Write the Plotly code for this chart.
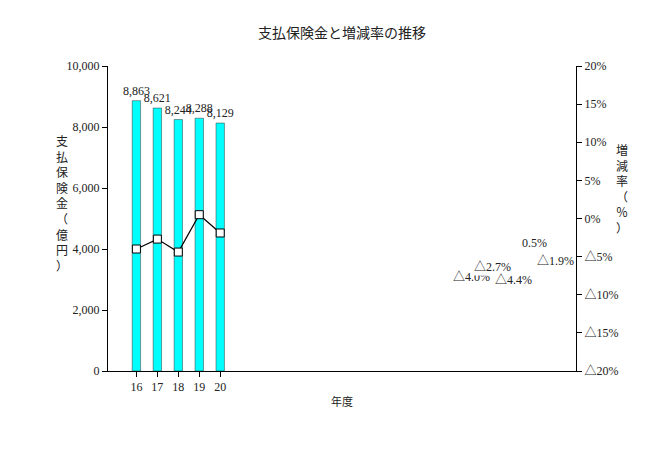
import plotly.graph_objects as go

years = ["16", "17", "18", "19", "20"]
payments = [8863, 8621, 8244, 8288, 8129]
rates = [-4.0, -2.7, -4.4, 0.5, -1.9]
rate_labels = ["△4.0%", "△2.7%", "△4.4%", "0.5%", "△1.9%"]
pct_ticks = [20, 15, 10, 5, 0, -5, -10, -15, -20]
pct_text = ["20%", "15%", "10%", "5%", "0%", "△5%", "△10%", "△15%", "△20%"]

F = "Liberation Serif, Noto Sans CJK JP"
fig = go.Figure()
fig.add_trace(go.Bar(x=years, y=payments, width=0.4, marker=dict(color="#00FFFF", line=dict(color="#333", width=0.5)),
                     text=[f"{v:,}" for v in payments], textposition="outside", textfont=dict(size=12, color="#222"),
                     constraintext="none", cliponaxis=False, showlegend=False))
fig.add_trace(go.Scatter(x=years, y=rates, yaxis="y2", mode="lines+markers",
                         line=dict(color="black", width=1.2),
                         marker=dict(symbol="square", size=8, color="white", line=dict(color="black", width=1)),
                         showlegend=False))
for x, r, t in zip(years, rates, rate_labels):
    fig.add_annotation(x=x, y=r, yref="y2", text=t, showarrow=False, yshift=-28,
                       bgcolor="white", font=dict(size=12, color="#222"))
fig.update_layout(
    width=668, height=453, plot_bgcolor="white", paper_bgcolor="white",
    margin=dict(l=100, r=100, t=58, b=90), font=dict(family=F, size=12, color="#222"),
    title=dict(text="支払保険金と増減率の推移", x=0.5, y=0.955, xanchor="center", font=dict(family="Noto Sans CJK JP", size=14)),
    xaxis=dict(type="category", showline=True, linecolor="black", ticks="outside", tickcolor="black",
               title=dict(text="年度", font=dict(family="Noto Sans CJK JP", size=11), standoff=4)),
    yaxis=dict(range=[0, 10000], dtick=2000, tickformat=",", showline=True, linecolor="black",
               ticks="outside", tickcolor="black", showgrid=False, zeroline=False),
    yaxis2=dict(overlaying="y", side="right", range=[-20, 20], tickvals=pct_ticks, ticktext=pct_text,
                showline=True, linecolor="black", ticks="outside", tickcolor="black", showgrid=False, zeroline=False),
)
fig.add_annotation(xref="paper", yref="paper", x=-0.115, y=0.55, showarrow=False,
                   text="<br>".join("支払保険金（億円）"), font=dict(family="Noto Sans CJK JP", size=12))
fig.add_annotation(xref="paper", yref="paper", x=1.115, y=0.6, showarrow=False,
                   text="<br>".join("増減率（％）"), font=dict(family="Noto Sans CJK JP", size=12))
fig.write_html("out.html")
